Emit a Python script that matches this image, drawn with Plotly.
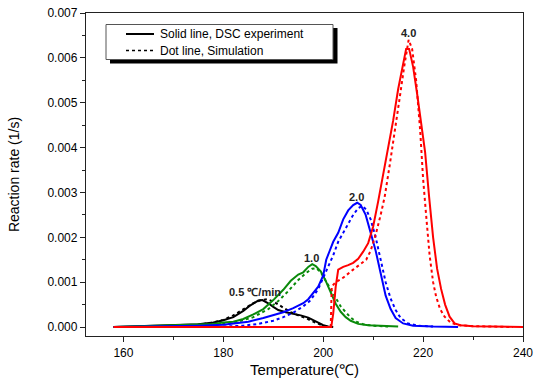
import plotly.graph_objects as go

# ---- data ----
t_exp_05 = [158, 165, 170, 175, 178, 180, 182, 184, 185.5, 187, 187.8, 189, 190, 191, 192.5, 194, 195.5, 197, 198, 199, 200, 201, 202]
r_exp_05 = [0, 0.00002, 0.00004, 0.00006, 0.0001, 0.00015, 0.00022, 0.00036, 0.00049, 0.00059, 0.0006, 0.00053, 0.00045, 0.00038, 0.00033, 0.0003, 0.00026, 0.00021, 0.00016, 0.0001, 0.00004, 0.00001, 0]

t_sim_05 = [170, 175, 178, 180, 182, 184, 186, 187.5, 188.8, 190, 191, 192, 193.5, 195, 196.5, 198, 199, 200, 201]
r_sim_05 = [0.00002, 0.00005, 0.0001, 0.00016, 0.00026, 0.0004, 0.00053, 0.0006, 0.00062, 0.00057, 0.0005, 0.00042, 0.00033, 0.00026, 0.0002, 0.00012, 0.00007, 0.00003, 0]

t_exp_10 = [158, 165, 170, 175, 178, 180, 182, 184, 186, 188, 190, 192, 193.5, 195, 196, 197, 197.8, 198.5, 199.5, 200.5, 201.5, 202.5, 203.5, 204.5, 205.5, 207, 209, 212, 215]
r_exp_10 = [0, 0.00002, 0.00004, 0.00005, 0.00007, 0.0001, 0.00012, 0.00018, 0.00028, 0.0004, 0.0006, 0.00083, 0.00103, 0.00117, 0.00122, 0.00134, 0.0014, 0.00136, 0.00124, 0.00103, 0.00077, 0.00052, 0.00034, 0.00022, 0.00014, 0.00007, 0.00004, 0.00002, 0.00001]

t_sim_10 = [175, 180, 183, 186, 189, 191, 193, 195, 196.5, 197.8, 198.6, 199.5, 200.5, 201.5, 202.5, 203.5, 204.5, 205.5, 206.6, 208, 210, 213]
r_sim_10 = [0.00003, 0.00007, 0.00012, 0.00022, 0.0004, 0.00058, 0.0008, 0.00105, 0.0012, 0.0013, 0.00131, 0.00122, 0.00103, 0.00083, 0.00063, 0.00046, 0.00033, 0.00021, 0.00012, 0.00006, 0.00003, 0.00001]

t_exp_20 = [158, 165, 170, 175, 180, 182, 185, 188, 190, 192, 194, 196, 197, 198, 199, 200, 200.6, 201.3, 202, 203, 204, 205, 206, 206.8, 207.5, 208.5, 209.5, 210.5, 211.5, 212.5, 213.5, 214.5, 216, 218, 222, 227]
r_exp_20 = [0, 0.00001, 0.00002, 0.00003, 0.00005, 0.00008, 0.00012, 0.0002, 0.00026, 0.00033, 0.00042, 0.00053, 0.00062, 0.00076, 0.0009, 0.00115, 0.0015, 0.0017, 0.0019, 0.0021, 0.0024, 0.0026, 0.00272, 0.00277, 0.00272, 0.0025, 0.0021, 0.0017, 0.0012, 0.0007, 0.0004, 0.0002, 0.00008, 0.00003, 0.00001, 0]

t_sim_20 = [180, 184, 187, 190, 192, 194, 196, 197.5, 199, 200, 201, 202, 203, 204, 205, 206, 207, 207.8, 208.6, 209.5, 210.5, 211.5, 212.5, 213.5, 214.5, 215.5, 217, 219, 222]
r_sim_20 = [0.00001, 0.00003, 0.00007, 0.00014, 0.00022, 0.00032, 0.00046, 0.0006, 0.00085, 0.0011, 0.00135, 0.0016, 0.0019, 0.0021, 0.0023, 0.0025, 0.00265, 0.0027, 0.00262, 0.0024, 0.002, 0.0015, 0.001, 0.00063, 0.00038, 0.0002, 0.00008, 0.00003, 0.00001]

t_exp_40 = [158, 170, 180, 190, 200, 201.6, 202, 202.5, 203, 204, 205, 206, 207, 208, 209, 210, 211, 212, 213, 214, 215, 216, 216.6, 217.2, 218, 218.8, 219.6, 220.4, 221.2, 222, 222.8, 223.6, 224.4, 225.3, 226.3, 227.5, 230, 235, 240]
r_exp_40 = [0, 0, 0, 0, 0, 0, 0.0003, 0.0009, 0.00128, 0.00134, 0.00138, 0.00143, 0.00152, 0.00168, 0.00187, 0.00224, 0.0028, 0.0034, 0.004, 0.0046, 0.0053, 0.0059, 0.0062, 0.0062, 0.0058, 0.0052, 0.0046, 0.0039, 0.0029, 0.002, 0.0013, 0.00085, 0.0005, 0.00023, 0.00008, 0.00004, 0.00002, 0.00001, 0]

t_sim_40 = [201.5, 201.7, 202.5, 204, 206, 207.5, 208.6, 209.5, 210.6, 211.5, 212.3, 213.3, 214.3, 215.3, 216.2, 217.1, 217.8, 218.6, 219.4, 220, 220.6, 221.3, 222, 222.6, 223.4, 224.3, 225.5, 227, 230, 238]
r_sim_40 = [0, 0.0009, 0.001, 0.0011, 0.00128, 0.0014, 0.0015, 0.0017, 0.0021, 0.0025, 0.0029, 0.0036, 0.0043, 0.0051, 0.0058, 0.0064, 0.0062, 0.0055, 0.0044, 0.0033, 0.0025, 0.0016, 0.001, 0.00068, 0.0004, 0.00023, 0.0001, 0.00004, 0.00002, 0]

rate_labels = ["0.5 \u2103/min", "1.0", "2.0", "4.0"]
label_x = [186.4, 197.6, 206.6, 217.0]
label_y = [0.00079, 0.00153, 0.0029, 0.00656]

legend_texts = ["Solid line, DSC experiment", "Dot line, Simulation"]

colors = ["#000000", "#0a8a0a", "#0000ff", "#ff0000"]
series = [
    (t_exp_05, r_exp_05, t_sim_05, r_sim_05),
    (t_exp_10, r_exp_10, t_sim_10, r_sim_10),
    (t_exp_20, r_exp_20, t_sim_20, r_sim_20),
    (t_exp_40, r_exp_40, t_sim_40, r_sim_40),
]

fig = go.Figure()
for (te, re_, ts, rs), c in zip(series, colors):
    fig.add_trace(go.Scatter(x=ts, y=rs, mode="lines", line=dict(color=c, width=2, dash="dot"),
                             showlegend=False, hoverinfo="skip"))
    fig.add_trace(go.Scatter(x=te, y=re_, mode="lines", line=dict(color=c, width=2),
                             showlegend=False, hoverinfo="skip"))

for txt, x, y in zip(rate_labels, label_x, label_y):
    fig.add_annotation(x=x, y=y, text="<b>" + txt + "</b>", showarrow=False,
                       font=dict(family="Liberation Sans, Arial", size=11, color="#222"))

# legend box (paper coords from pixel positions)
L, R, T, B = 86, 523, 13, 336
W, H = R - L, B - T
def px(p): return (p - L) / W
def py(p): return (B - p) / H

fig.add_shape(type="rect", xref="paper", yref="paper", x0=px(110), x1=px(337.5), y0=py(63.5), y1=py(28),
              fillcolor="black", line=dict(width=0), layer="above")
fig.add_shape(type="rect", xref="paper", yref="paper", x0=px(106), x1=px(333), y0=py(59.5), y1=py(24.5),
              fillcolor="white", line=dict(color="#555", width=1), layer="above")
fig.add_shape(type="line", xref="paper", yref="paper", x0=px(126), x1=px(154), y0=py(34), y1=py(34),
              line=dict(color="black", width=2), layer="above")
fig.add_shape(type="line", xref="paper", yref="paper", x0=px(126), x1=px(154), y0=py(50.5), y1=py(50.5),
              line=dict(color="black", width=1.5, dash="dot"), layer="above")
for txt, yy in zip(legend_texts, [34, 50.8]):
    fig.add_annotation(xref="paper", yref="paper", x=px(158), y=py(yy), xanchor="left", yanchor="middle",
                       text=txt, showarrow=False,
                       font=dict(family="Liberation Sans, Arial", size=12, color="black"))

axis_common = dict(showline=True, linecolor="#222", linewidth=1.3, mirror=True, ticks="outside",
                   tickcolor="#222", ticklen=5, tickwidth=1.2, showgrid=False, zeroline=False,
                   automargin=False,
                   tickfont=dict(family="Liberation Sans, Arial", size=12, color="black"))

fig.update_xaxes(range=[152.5, 240], tick0=160, dtick=20,
                 minor=dict(dtick=10, ticks="outside", ticklen=3, tickcolor="#222", tickwidth=1),
                 title=dict(text="Temperature(\u2103)", font=dict(family="Liberation Sans, Arial", size=15, color="black"), standoff=5),
                 **axis_common)
fig.update_yaxes(range=[-0.0002, 0.007], tick0=0, dtick=0.001, tickformat=".3f",
                 minor=dict(dtick=0.0005, ticks="outside", ticklen=3, tickcolor="#222", tickwidth=1),
                 title=dict(text="Reaction rate (1/s)", font=dict(family="Liberation Sans, Arial", size=14, color="black"), standoff=24),
                 **axis_common)

fig.update_layout(width=534, height=385, margin=dict(l=86, r=11, t=13, b=49),
                  plot_bgcolor="white", paper_bgcolor="white", showlegend=False)

fig.write_html("out.html")
